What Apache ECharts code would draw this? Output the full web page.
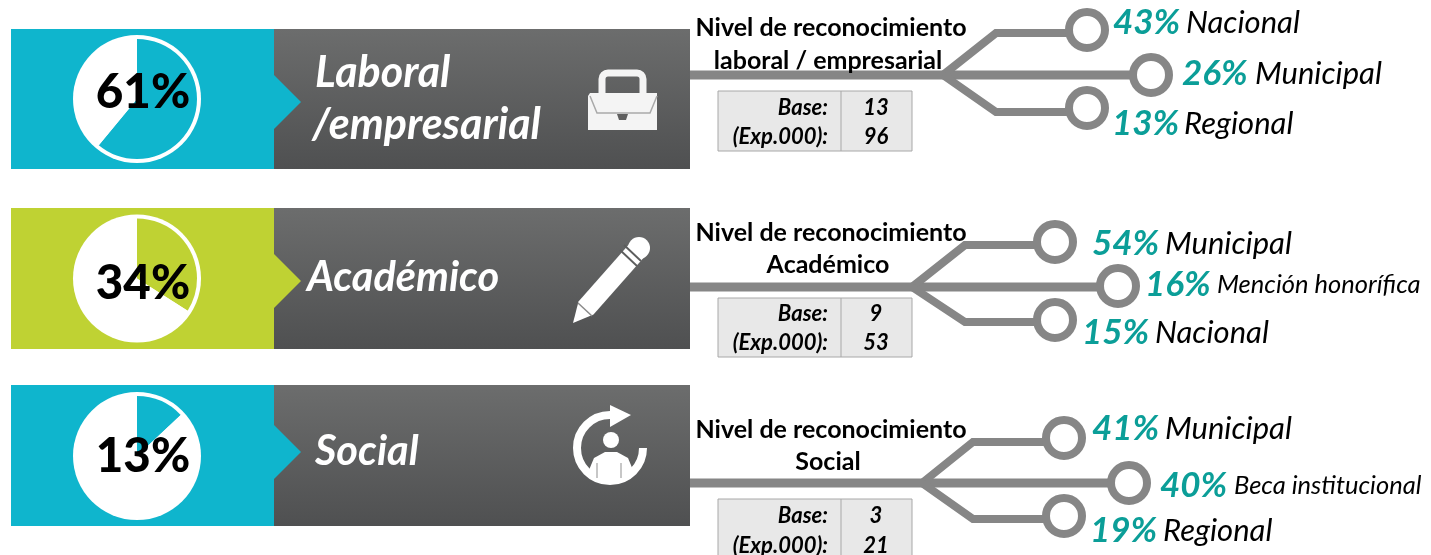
<!DOCTYPE html>
<html>
<head>
<meta charset="utf-8">
<style>
  html, body { margin: 0; padding: 0; background: #fff; }
  #chart { width: 1431px; height: 555px; }
</style>
<script src="https://cdn.jsdelivr.net/npm/echarts@6/dist/echarts.min.js"></script>
</head>
<body>
<div id="chart"></div>
<script>
/* Data */
var categories = ['Laboral\n/empresarial', 'Académico', 'Social'];
var shareValues = [61, 34, 13];
var subtitles = ['laboral / empresarial', 'Académico', 'Social'];
var baseValues = [13, 9, 3];
var expValues = [96, 53, 21];
var branchNames = [
    ['Nacional', 'Municipal', 'Regional'],
    ['Municipal', 'Mención honorífica', 'Nacional'],
    ['Municipal', 'Beca institucional', 'Regional']
];
var branchValues = [
    [43, 26, 13],
    [54, 16, 15],
    [41, 40, 19]
];

/* Layout, one entry per row */
var FONT = 'Lato, "Open Sans", sans-serif';
var rowColors = ['#0fb5cd', '#bfd233', '#0fb5cd'];
var rows = [
    { top: 29, bottom: 169, pieY: 99, labelOff: -6, tip: 102, titleY: [27, 60], catY: [72, 124], catX: [315, 312], catSize: 43,
      trunk: 75, jx: 943, ex: 996, ey: [33, 112], cx: [1087, 1151, 1087], cy: [30, 75, 108],
      pctX: [1113, 1182, 1112], pctY: [22, 73, 123], nameX: [1186, 1255, 1184], nameSize: [31, 31, 31],
      tableTop: 91, tableBottom: 151, tableY: [107, 136] },
    { top: 208, bottom: 349, pieY: 278.5, labelOff: 5, tip: 281, titleY: [232, 264], catY: [277], catX: [307], catSize: 41.5,
      trunk: 287, jx: 912, ex: 965, ey: [245, 322], cx: [1055, 1118, 1055], cy: [242, 286, 320],
      pctX: [1092, 1145, 1082], pctY: [243, 284, 332], nameX: [1165, 1217, 1155], nameSize: [31, 25.5, 31],
      tableTop: 298, tableBottom: 357, tableY: [313, 342] },
    { top: 385, bottom: 526, pieY: 456, labelOff: 1, tip: 452, titleY: [429, 461], catY: [451], catX: [315], catSize: 41.5,
      trunk: 483, jx: 922, ex: 973, ey: [442, 519], cx: [1064, 1129, 1064], cy: [438, 483, 516],
      pctX: [1092, 1160, 1090], pctY: [428, 485, 530], nameX: [1165, 1234, 1163], nameSize: [31, 25.5, 31],
      tableTop: 499, tableBottom: 560, tableY: [515, 545] }
];

var graphics = [];

function addText(text, x, y, font, fill, align) {
    graphics.push({
        type: 'text', z: 20,
        style: { text: text, x: x, y: y + 1, font: font, fill: fill, textAlign: align || 'left', textVerticalAlign: 'middle' }
    });
}
function addLine(points, color, width, z) {
    graphics.push({
        type: 'polyline', z: z || 10,
        shape: { points: points },
        style: { stroke: color, lineWidth: width, fill: null, lineJoin: 'miter' }
    });
}
function addPoly(points, fill, z) {
    graphics.push({ type: 'polygon', z: z || 11, shape: { points: points }, style: { fill: fill } });
}
function addCircle(cx, cy, r, fill, stroke, width, z) {
    graphics.push({
        type: 'circle', z: z || 11,
        shape: { cx: cx, cy: cy, r: r },
        style: { fill: fill, stroke: stroke || null, lineWidth: width || 0 }
    });
}

/* Row panels, tree lines, tables and texts */
rows.forEach(function (row, i) {
    var h = row.bottom - row.top;
    graphics.push({ type: 'rect', z: 0, shape: { x: 11, y: row.top, width: 264, height: h }, style: { fill: rowColors[i] } });
    graphics.push({
        type: 'rect', z: 0,
        shape: { x: 274, y: row.top, width: 416, height: h },
        style: { fill: new echarts.graphic.LinearGradient(0, 0, 0, 1, [{ offset: 0, color: '#6c6d6d' }, { offset: 1, color: '#4f5051' }]) }
    });
    addPoly([[274, row.tip - 27], [301, row.tip], [274, row.tip + 27]], rowColors[i], 1);
    addCircle(137, row.pieY, 64, '#fff', null, 0, 1);

    categories[i].split('\n').forEach(function (part, k) {
        addText(part, row.catX[k], row.catY[k], 'italic bold ' + row.catSize + 'px ' + FONT, '#fff');
    });

    addText('Nivel de reconocimiento', 831, row.titleY[0], 'bold 25px ' + FONT, '#000', 'center');
    addText(subtitles[i], 828, row.titleY[1], 'bold 25px ' + FONT, '#000', 'center');

    /* tree */
    addLine([[690, row.trunk], [row.cx[1], row.trunk]], '#868686', 9);
    addLine([[row.jx, row.trunk], [row.ex, row.ey[0]], [row.cx[0], row.ey[0]]], '#868686', 8);
    addLine([[row.jx, row.trunk], [row.ex, row.ey[1]], [row.cx[2], row.ey[1]]], '#868686', 8);
    for (var b = 0; b < 3; b++) {
        addCircle(row.cx[b], row.cy[b], 18, '#fff', '#868686', 8, 12);
        addText(branchValues[i][b] + '%', row.pctX[b], row.pctY[b], 'italic bold 35px ' + FONT, '#0b9e98');
        addText(branchNames[i][b], row.nameX[b], row.pctY[b], 'italic ' + row.nameSize[b] + 'px ' + FONT, '#000');
    }

    /* base table */
    graphics.push({
        type: 'rect', z: 5,
        shape: { x: 718, y: row.tableTop, width: 194, height: row.tableBottom - row.tableTop },
        style: { fill: '#e8e8e8', stroke: '#a8a8a8', lineWidth: 1 }
    });
    addLine([[841, row.tableTop], [841, row.tableBottom]], '#a8a8a8', 1, 6);
    addText('Base:', 828, row.tableY[0], 'italic bold 22px ' + FONT, '#000', 'right');
    addText('(Exp.000):', 828, row.tableY[1], 'italic bold 22px ' + FONT, '#000', 'right');
    addText(String(baseValues[i]), 876, row.tableY[0], 'italic bold 22px ' + FONT, '#000', 'center');
    addText(String(expValues[i]), 876, row.tableY[1], 'italic bold 22px ' + FONT, '#000', 'center');
});

/* Briefcase icon */
var ICON = '#f4f4f4';
graphics.push({
    type: 'rect', z: 11,
    shape: { x: 602, y: 73, width: 41, height: 26, r: [6, 6, 0, 0] },
    style: { fill: null, stroke: ICON, lineWidth: 7 }
});
addPoly([[590, 93], [657, 93], [657, 130], [588, 130], [588, 96]], ICON);
addLine([[590, 96], [597, 113], [650, 113], [657, 96]], '#a9a9a9', 1.5, 12);
addPoly([[617, 114], [628, 114], [626, 120], [619, 120]], '#5f5f5f', 12);

/* Pencil icon */
addPoly([[573, 323], [578.5, 301.4], [631.5, 241.4], [646.5, 254.6], [593.5, 314.6]], '#fff');
addCircle(639, 248, 11, '#fff');
addLine([[624, 245], [641, 261]], '#5c5d5d', 1.8, 12);
addLine([[620, 250], [637, 266]], '#5c5d5d', 1.8, 12);
addLine([[578, 303], [592, 316]], '#8a8a8a', 1.5, 12);

/* Social icon */
graphics.push({
    type: 'arc', z: 11,
    shape: { cx: 610, cy: 448, r: 33, startAngle: -Math.PI / 2, endAngle: 0, clockwise: false },
    style: { fill: null, stroke: '#fff', lineWidth: 8 }
});
addPoly([[610, 405], [631, 415], [610, 427]], '#fff');
addCircle(611, 440, 8, '#fff');
addPoly([[594, 458], [605, 452], [617, 452], [628, 458], [633, 470], [625, 480], [610, 483], [596, 480], [589, 470]], '#fff');
addLine([[597, 463], [597, 478]], '#b5b5b5', 1.5, 12);
addLine([[621, 463], [621, 478]], '#b5b5b5', 1.5, 12);

/* Pie series */
var pieSeries = shareValues.map(function (value, i) {
    return {
        type: 'pie',
        silent: true,
        z: 3,
        center: [137, rows[i].pieY],
        radius: [0, 60],
        startAngle: 90,
        clockwise: true,
        avoidLabelOverlap: false,
        labelLine: { show: false },
        animation: false,
        data: [
            {
                value: value,
                itemStyle: { color: rowColors[i] },
                label: {
                    show: true, position: 'center', formatter: value + '%',
                    offset: [6, rows[i].labelOff],
                    color: '#000', fontFamily: FONT, fontWeight: 900, fontSize: 47.5
                }
            },
            { value: 100 - value, itemStyle: { color: '#fff' }, label: { show: false } }
        ]
    };
});

var chart = echarts.init(document.getElementById('chart'));
chart.setOption({
    animation: false,
    graphic: { elements: graphics },
    series: pieSeries
});
</script>
</body>
</html>
